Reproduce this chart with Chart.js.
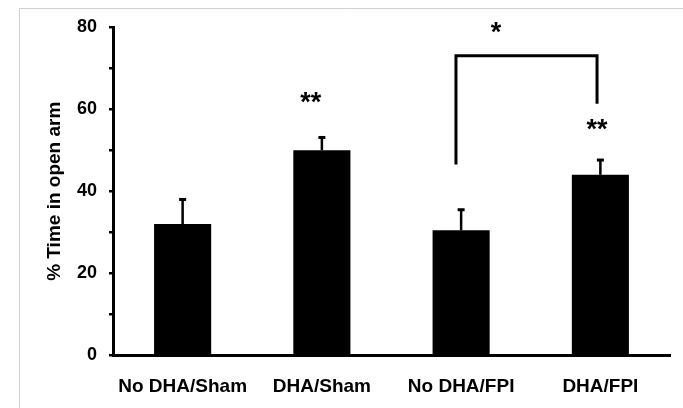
<!DOCTYPE html>
<html>
<head>
<meta charset="utf-8">
<script src="https://cdn.jsdelivr.net/npm/chart.js@4"></script>
<style>
    html, body { margin: 0; padding: 0; background: #fff; }
    canvas { display: block; }
</style>
</head>
<body>
<canvas id="chart" width="683" height="408"></canvas>
<script>
// Data
const groups = ['No DHA/Sham', 'DHA/Sham', 'No DHA/FPI', 'DHA/FPI'];
const meanTime = [32, 50, 30.5, 44];
const semTime = [6, 3.1, 5, 3.6];
const yTicks = [0, 20, 40, 60, 80];

// Significance marks: [category index, value, text]
const starMarks = [
    [0.92, 62.8, '**'],
    [2.976, 56.2, '**'],
    [2.25, 79.8, '*']
];
// Bracket: left index, right index, top value, left bottom, right bottom
const bracket = [1.963, 2.976, 73.0, 46.5, 61.3];

const FONT = '"Liberation Sans", Arial, Helvetica, sans-serif';

const extrasPlugin = {
    id: 'extras',
    beforeDraw(chart) {
        // light frame of the original figure
        const ctx = chart.ctx;
        ctx.save();
        ctx.strokeStyle = '#d0d0d0';
        ctx.lineWidth = 1;
        ctx.beginPath();
        ctx.moveTo(19.5, chart.height);
        ctx.lineTo(19.5, 8.5);
        ctx.lineTo(chart.width, 8.5);
        ctx.stroke();
        ctx.restore();
    },
    afterDatasetsDraw(chart) {
        const ctx = chart.ctx;
        const x = chart.scales.x;
        const y = chart.scales.y;
        const meta = chart.getDatasetMeta(0);

        ctx.save();
        ctx.strokeStyle = '#000';
        ctx.lineCap = 'butt';

        // error bars (upper only)
        meta.data.forEach((bar, i) => {
            const top = y.getPixelForValue(meanTime[i] + semTime[i]);
            const base = y.getPixelForValue(meanTime[i]);
            ctx.lineWidth = 2.5;
            ctx.beginPath();
            ctx.moveTo(bar.x, base);
            ctx.lineTo(bar.x, top);
            ctx.stroke();
            ctx.lineWidth = 3;
            ctx.beginPath();
            ctx.moveTo(bar.x - 3.5, top);
            ctx.lineTo(bar.x + 3.5, top);
            ctx.stroke();
        });

        // bracket
        const [li, ri, topV, lb, rb] = bracket;
        ctx.lineWidth = 3;
        ctx.lineJoin = 'miter';
        ctx.beginPath();
        ctx.moveTo(x.getPixelForValue(li), y.getPixelForValue(lb));
        ctx.lineTo(x.getPixelForValue(li), y.getPixelForValue(topV));
        ctx.lineTo(x.getPixelForValue(ri), y.getPixelForValue(topV));
        ctx.lineTo(x.getPixelForValue(ri), y.getPixelForValue(rb));
        ctx.stroke();

        // asterisks
        ctx.fillStyle = '#000';
        ctx.font = 'bold 27px ' + FONT;
        ctx.textAlign = 'center';
        ctx.textBaseline = 'alphabetic';
        starMarks.forEach(([idx, val, txt]) => {
            const m = ctx.measureText(txt);
            const cy = y.getPixelForValue(val);
            const off = (m.actualBoundingBoxAscent - m.actualBoundingBoxDescent) / 2;
            ctx.fillText(txt, x.getPixelForValue(idx), cy + off);
        });
        ctx.restore();
    }
};

new Chart(document.getElementById('chart'), {
    type: 'bar',
    data: {
        labels: groups,
        datasets: [{
            data: meanTime,
            backgroundColor: '#000',
            borderWidth: 0,
            categoryPercentage: 1,
            barPercentage: 0.41
        }]
    },
    options: {
        responsive: false,
        animation: false,
        devicePixelRatio: 1,
        layout: {
            padding: { left: 43, right: 13, top: 27, bottom: 0 }
        },
        plugins: {
            legend: { display: false },
            tooltip: { enabled: false }
        },
        scales: {
            x: {
                grid: { display: false, drawTicks: false },
                border: { display: true, color: '#000', width: 3 },
                ticks: {
                    color: '#000',
                    padding: 20,
                    maxRotation: 0,
                    font: { family: FONT, size: 19, weight: 'bold' }
                },
                afterFit(scale) { scale.height = 52.5; }
            },
            y: {
                min: 0,
                max: 80,
                grid: {
                    drawOnChartArea: false,
                    drawTicks: true,
                    tickLength: 4,
                    color: '#000',
                    lineWidth: 2.5
                },
                border: { display: true, color: '#000', width: 3 },
                ticks: {
                    stepSize: 10,
                    color: '#000',
                    padding: 12,
                    font: { family: FONT, size: 18, weight: 'bold' },
                    callback: (v) => yTicks.includes(v) ? v : ''
                },
                title: {
                    display: true,
                    text: '% Time in open arm',
                    color: '#000',
                    padding: 0,
                    font: { family: FONT, size: 19, weight: 'bold' }
                },
                afterFit(scale) { scale.width = 70; }
            }
        }
    },
    plugins: [extrasPlugin]
});
</script>
</body>
</html>
